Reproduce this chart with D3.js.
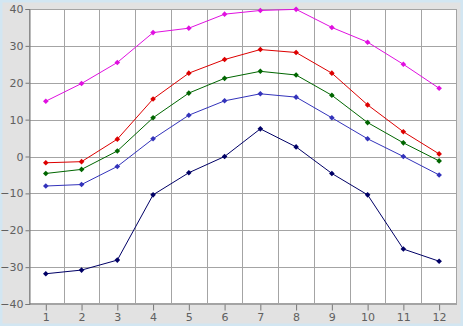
<!DOCTYPE html>
<html>
<head>
<meta charset="utf-8">
<script src="https://cdn.jsdelivr.net/npm/d3@7"></script>
<style>
  body { margin: 0; background: #e2e2e2; }
  svg text { font-family: "DejaVu Sans", Verdana, sans-serif; font-size: 11px; fill: #606060; }
</style>
</head>
<body>
<svg id="chart" width="463" height="326"></svg>
<script>
var months = [1, 2, 3, 4, 5, 6, 7, 8, 9, 10, 11, 12];
var yTicks = [-40, -30, -20, -10, 0, 10, 20, 30, 40];

var magentaVals = [15, 19.8, 25.5, 33.6, 34.8, 38.6, 39.6, 39.9, 35, 31, 25, 18.5];
var redVals = [-1.7, -1.4, 4.7, 15.6, 22.6, 26.3, 29, 28.2, 22.6, 14, 6.7, 0.7];
var greenVals = [-4.6, -3.5, 1.5, 10.5, 17.2, 21.2, 23.1, 22.1, 16.6, 9.2, 3.7, -1.2];
var blueVals = [-8, -7.6, -2.7, 4.8, 11.2, 15.1, 17, 16.1, 10.5, 4.8, 0, -5];
var navyVals = [-31.8, -30.8, -28.1, -10.4, -4.4, 0, 7.5, 2.6, -4.6, -10.4, -25.1, -28.4];

var seriesList = [
    {values: navyVals, color: "#000066"},
    {values: blueVals, color: "#3333bb"},
    {values: greenVals, color: "#006600"},
    {values: redVals, color: "#dd0000"},
    {values: magentaVals, color: "#e010e0"}
];

var svg = d3.select("#chart"),
    width = +svg.attr("width"),
    height = +svg.attr("height");

var plotLeft = 29, plotRight = 457, plotTop = 9, plotBottom = 304;

// frame
svg.append("rect")
    .attr("x", 1).attr("y", 1)
    .attr("width", width - 2).attr("height", height - 2)
    .attr("fill", "#e2e2e2")
    .attr("stroke", "#d2e6f2").attr("stroke-width", 3);

var x = d3.scaleLinear().domain([0.53, 12.5]).range([plotLeft, plotRight]);
var y = d3.scaleLinear().domain([-40, 40]).range([plotBottom, plotTop]);

svg.append("rect")
    .attr("x", plotLeft).attr("y", plotTop)
    .attr("width", plotRight - plotLeft).attr("height", plotBottom - plotTop)
    .attr("fill", "#fff");

var grid = svg.append("g").attr("class", "grid");

grid.selectAll("line.h")
    .data(yTicks)
    .enter().append("line")
    .attr("class", "h")
    .attr("x1", plotLeft).attr("x2", plotRight)
    .attr("y1", function(d) { return Math.round(y(d)) + 0.5; })
    .attr("y2", function(d) { return Math.round(y(d)) + 0.5; })
    .attr("stroke", "#a4a4a4");

grid.selectAll("line.v")
    .data(months.slice(0, 11))
    .enter().append("line")
    .attr("class", "v")
    .attr("x1", function(d) { return Math.round(x(d + 0.5)) + 0.5; })
    .attr("x2", function(d) { return Math.round(x(d + 0.5)) + 0.5; })
    .attr("y1", plotTop).attr("y2", plotBottom)
    .attr("stroke", "#a4a4a4");

// plot border
svg.append("rect")
    .attr("x", plotLeft + 0.5).attr("y", plotTop + 0.5)
    .attr("width", plotRight - plotLeft - 1).attr("height", plotBottom - plotTop - 1)
    .attr("fill", "none")
    .attr("stroke", "#a4a4a4");

// y axis
var yAxis = svg.append("g")
    .attr("transform", "translate(" + (plotLeft + 0.5) + ",0)")
    .call(d3.axisLeft(y).tickValues(yTicks).tickSize(4).tickPadding(2));
yAxis.select(".domain").attr("stroke", "#777");
yAxis.selectAll(".tick line").attr("stroke", "#777");

// x axis
var xAxis = svg.append("g")
    .attr("transform", "translate(0," + (plotBottom + 0.5) + ")")
    .call(d3.axisBottom(x).tickValues(months).tickSize(6).tickPadding(3));
xAxis.select(".domain").remove();
xAxis.selectAll(".tick line").attr("stroke", "#777");

var line = d3.line()
    .x(function(d, i) { return x(months[i]); })
    .y(function(d) { return y(d); });

var marker = d3.symbol().type(d3.symbolDiamond2).size(20);

seriesList.forEach(function(s) {
    svg.append("path")
        .datum(s.values)
        .attr("d", line)
        .attr("fill", "none")
        .attr("stroke", s.color)
        .attr("stroke-width", 1);

    svg.append("g")
        .selectAll("path")
        .data(s.values)
        .enter().append("path")
        .attr("d", marker)
        .attr("transform", function(d, i) { return "translate(" + x(months[i]) + "," + y(d) + ")"; })
        .attr("fill", s.color);
});
</script>
</body>
</html>
